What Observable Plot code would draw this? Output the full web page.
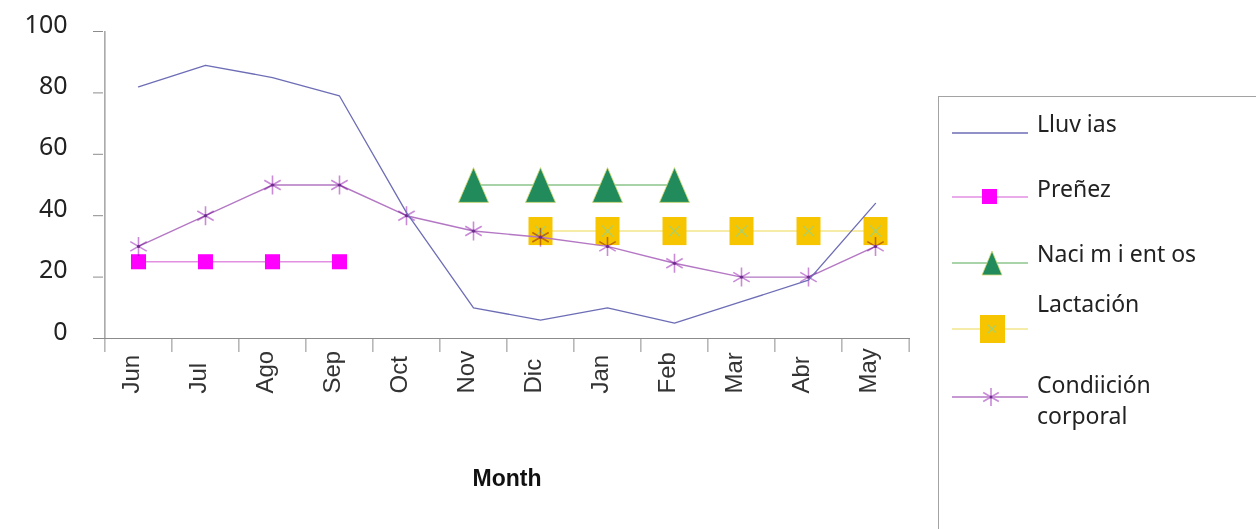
<!DOCTYPE html>
<html>
<head>
<meta charset="utf-8">
<script src="https://cdn.jsdelivr.net/npm/d3@7"></script>
<script src="https://cdn.jsdelivr.net/npm/@observablehq/plot@0.6"></script>
<style>
  html, body { margin: 0; padding: 0; background: #fff; overflow: hidden; }
  #wrap { position: relative; width: 1256px; height: 529px; }
  #legend { position: absolute; left: 938px; top: 96px; width: 330px; height: 440px;
            border: 1.5px solid #a3a3a3; box-sizing: border-box; background: #fff; }
  #legend svg { position: absolute; left: 0; top: 0; }
</style>
</head>
<body>
<div id="wrap">
  <div id="chart"></div>
  <div id="legend"></div>
</div>
<script>
// ---- data ----
const months = ["Jun","Jul","Ago","Sep","Oct","Nov","Dic","Jan","Feb","Mar","Abr","May"];
const lluvias = [82, 89, 85, 79, 41, 10, 6, 10, 5, 12, 19, 44];
const prenezMonths = ["Jun","Jul","Ago","Sep"];
const prenez = [25, 25, 25, 25];
const nacimientosMonths = ["Nov","Dic","Jan","Feb"];
const nacimientos = [50, 50, 50, 50];
const lactacionMonths = ["Dic","Jan","Feb","Mar","Abr","May"];
const lactacion = [35, 35, 35, 35, 35, 35];
const condicion = [30, 40, 50, 50, 40, 35, 33, 30, 24.5, 20, 20, 30];
const yTicks = [0, 20, 40, 60, 80, 100];
const seriesNames = ["Lluv ias", "Preñez", "Naci m i ent os", "Lactación", "Condiición corporal"];
const xTitle = "Month";

// ---- tables ----
const rows = (ms, vs) => ms.map((m, i) => ({m, v: vs[i]}));
const lluviasT = rows(months, lluvias);
const prenezT = rows(prenezMonths, prenez);
const nacT = rows(nacimientosMonths, nacimientos);
const lacT = rows(lactacionMonths, lactacion);
const condT = rows(months, condicion);

// custom marker shapes
const triSymbol = {draw(ctx, size) { const r = Math.sqrt(size / Math.PI); const w = r * 1.25, h = r * 1.45;
  ctx.moveTo(0, -h); ctx.lineTo(w, h); ctx.lineTo(-w, h); ctx.closePath(); }};
const rectSymbol = {draw(ctx, size) { const r = Math.sqrt(size / Math.PI); const w = r, h = r * 1.17;
  ctx.moveTo(-w, -h); ctx.lineTo(w, -h); ctx.lineTo(w, h); ctx.lineTo(-w, h); ctx.closePath(); }};

const W = 935, H = 529, ML = 103, MR = 25, MT = 31, MB = 191;
const step = (W - ML - MR) / months.length;
const axisGray = "#8c8c8c";

const chart = Plot.plot({
  width: W, height: H,
  marginLeft: ML, marginRight: MR, marginTop: MT, marginBottom: MB,
  style: {fontFamily: "'Liberation Sans', Arial, sans-serif", background: "transparent", overflow: "visible"},
  x: {type: "point", domain: months, padding: 0.5, label: null},
  y: {domain: [0, 100], label: null},
  marks: [
    // axes
    Plot.ruleY([0], {stroke: axisGray, strokeWidth: 1.2}),
    Plot.ruleX([months[0]], {x: d => d, y1: () => 0, y2: () => 100, dx: -step / 2, stroke: axisGray, strokeWidth: 1.2}),
    Plot.axisY({ticks: yTicks, tickSize: 10, tickFormat: () => "", stroke: axisGray, label: null}),
    Plot.text(yTicks, {y: d => d, frameAnchor: "left", textAnchor: "end", dx: -36, dy: -7,
      text: d => String(d), fontSize: 25, fill: "#222", fontFamily: "'Noto Sans', sans-serif"}),
    Plot.axisX({ticks: months, tickSize: 14, tickFormat: () => "", dx: -step / 2, stroke: axisGray, label: null}),
    Plot.axisX({ticks: [months[months.length - 1]], tickSize: 14, tickFormat: () => "", dx: step / 2, stroke: axisGray, label: null}),
    Plot.text(months, {x: d => d, frameAnchor: "bottom", rotate: -90, textAnchor: "start", dy: 55,
      text: d => d, fontSize: 24, fill: "#333"}),
    Plot.text([xTitle], {frameAnchor: "bottom", dy: 147, text: d => d, fontSize: 23, fontWeight: "bold", fill: "#111"}),

    // Preñez
    Plot.line(prenezT, {x: "m", y: "v", stroke: "#e28fe2", strokeWidth: 1.5}),
    Plot.dot(prenezT, {x: "m", y: "v", symbol: "square", r: 8.5, fill: "#ff00ff", stroke: "none"}),
    // Nacimientos
    Plot.line(nacT, {x: "m", y: "v", stroke: "#8cc48c", strokeWidth: 1.5}),
    Plot.dot(nacT, {x: "m", y: "v", symbol: triSymbol, r: 12, fill: "#228b5b", stroke: "#d6dc78", strokeWidth: 0.8}),
    // Lactación
    Plot.line(lacT, {x: "m", y: "v", stroke: "#f3e68c", strokeWidth: 1.5}),
    Plot.dot(lacT, {x: "m", y: "v", symbol: rectSymbol, r: 12, fill: "#f6c500", stroke: "none"}),
    Plot.dot(lacT, {x: "m", y: "v", symbol: "times", r: 5, stroke: "#a9cf6b", strokeWidth: 1.2}),
    // Condición corporal
    Plot.line(condT, {x: "m", y: "v", stroke: "#b477c4", strokeWidth: 1.4}),
    Plot.dot(condT, {x: "m", y: "v", symbol: "asterisk", r: 9, stroke: "#c98ad8", strokeWidth: 1.6, mixBlendMode: "multiply"}),
    Plot.dot(condT, {x: "m", y: "v", r: 1.6, fill: "#6b2c8c", stroke: "none"}),
    // Lluvias
    Plot.line(lluviasT, {x: "m", y: "v", stroke: "#6d6db6", strokeWidth: 1.3})
  ]
});
document.getElementById("chart").appendChild(chart);

// ---- legend ----
const NS = "http://www.w3.org/2000/svg";
const lg = document.createElementNS(NS, "svg");
lg.setAttribute("width", 330); lg.setAttribute("height", 440);
lg.style.fontFamily = "'Noto Sans', sans-serif";
const font = 23;
let html = "";
const line = (y, c) => `<line x1="13" x2="89" y1="${y}" y2="${y}" stroke="${c}" stroke-width="1.4"/>`;
const txt = (y, s) => `<text x="98" y="${y}" font-size="${font}" fill="#222">${s}</text>`;
// Lluvias
html += line(36, "#6d6db6") + txt(35, seriesNames[0]);
// Preñez
html += line(100, "#e28fe2") + `<rect x="43" y="92" width="15" height="15" fill="#ff00ff"/>` + txt(100, seriesNames[1]);
// Nacimientos
html += line(166, "#8cc48c") + `<path d="M53,154 L63,178 L43,178 Z" fill="#228b5b" stroke="#d6dc78" stroke-width="0.8"/>` + txt(165, seriesNames[2]);
// Lactación
html += line(232, "#f3e68c") + `<rect x="41" y="218" width="25" height="28" fill="#f6c500"/>`
  + `<path d="M49,228 L57,236 M57,228 L49,236" stroke="#a9cf6b" stroke-width="1.2"/>` + txt(215, seriesNames[3]);
// Condición corporal
html += line(300, "#b477c4")
  + `<path d="M52,291 L52,309 M44.2,295.5 L59.8,304.5 M44.2,304.5 L59.8,295.5" stroke="#c98ad8" stroke-width="1.6"/>`
  + `<circle cx="52" cy="300" r="1.5" fill="#6b2c8c"/>`;
const [w1, w2] = seriesNames[4].split(" ");
html += txt(296, w1) + txt(327, w2);
lg.innerHTML = html;
document.getElementById("legend").appendChild(lg);
</script>
</body>
</html>
